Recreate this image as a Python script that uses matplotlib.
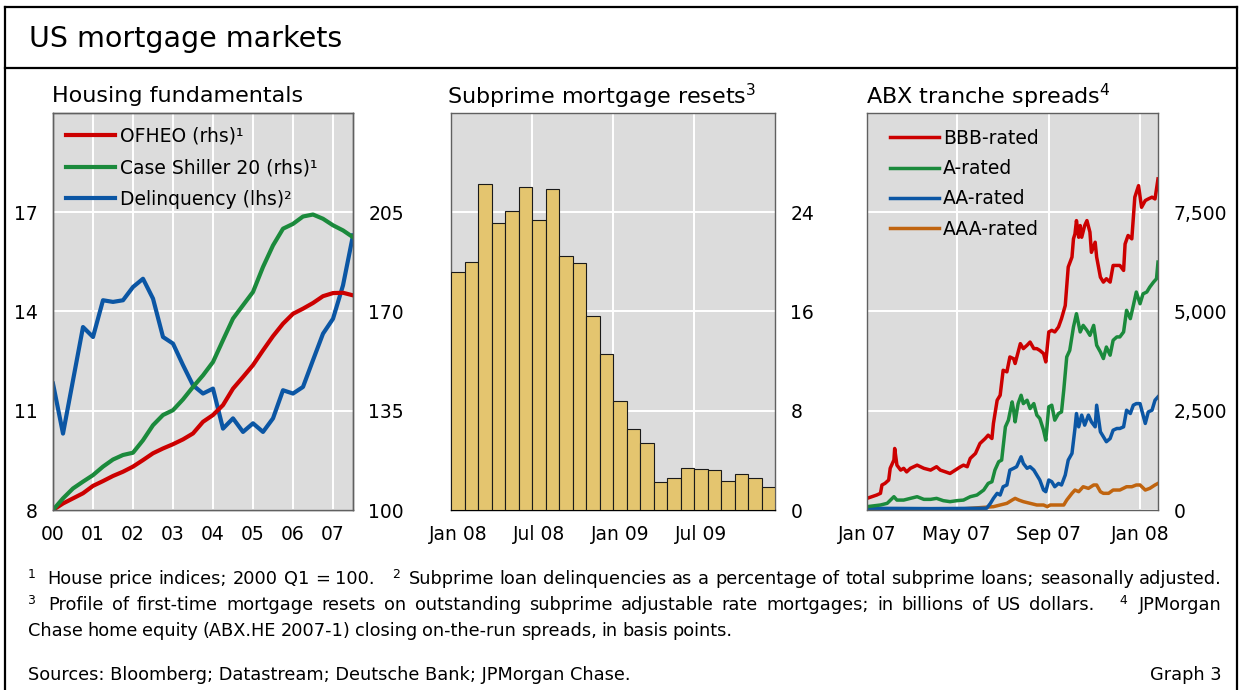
import matplotlib
matplotlib.use('Agg')
import matplotlib.pyplot as plt
from matplotlib.lines import Line2D
from matplotlib.ticker import FuncFormatter
import numpy as np

plt.rcParams['font.family'] = ['DejaVu Sans']

# ---------------- data ----------------
# Housing fundamentals (quarterly, 2000 Q1 .. 2007 Q3)
year_labels = ['00', '01', '02', '03', '04', '05', '06', '07']
ofheo = [100, 102.3, 104.1, 105.9, 108.5, 110.2, 112.0, 113.5, 115.3, 117.6, 120.0,
         121.7, 123.2, 124.9, 127.0, 131.1, 133.5, 137.0, 142.8, 146.9, 151.1, 156.3,
         161.3, 165.7, 169.2, 171.0, 173.0, 175.4, 176.5, 176.6, 175.7]
case_shiller = [100, 104.1, 107.6, 110.0, 112.3, 115.3, 117.8, 119.4, 120.2, 124.6, 129.9,
                133.5, 135.2, 139.0, 143.4, 147.5, 152.2, 159.9, 167.5, 172.2, 176.9, 185.7,
                193.3, 199.2, 200.9, 203.5, 204.2, 202.7, 200.4, 198.6, 196.2]
delinquency = [11.82, 10.31, 11.92, 13.53, 13.23, 14.34, 14.29, 14.34, 14.74, 14.99, 14.39,
               13.23, 13.03, 12.38, 11.77, 11.52, 11.67, 10.46, 10.77, 10.36, 10.62, 10.36,
               10.77, 11.62, 11.52, 11.72, 12.53, 13.33, 13.78, 14.79, 16.30]

# Subprime mortgage resets (monthly, Jan 08 .. Dec 09), USD bn
reset_month_labels = ['Jan 08', 'Jul 08', 'Jan 09', 'Jul 09']
resets = [19.15, 20.0, 26.3, 23.1, 24.1, 26.0, 23.4, 25.9, 20.5, 19.9, 15.6, 12.6,
          8.8, 6.5, 5.4, 2.25, 2.55, 3.4, 3.3, 3.25, 2.35, 2.9, 2.6, 1.85]

# ABX tranche spreads, days since 1 Jan 2007, basis points
abx_tick_labels = ['Jan 07', 'May 07', 'Sep 07', 'Jan 08']
abx_tick_days = [0, 120, 243, 365]
bbb_days = [0, 13, 18, 20, 24, 29, 31, 36, 37, 40, 45, 49, 53, 58, 67, 76, 85, 93, 98, 105,
            111, 118, 125, 129, 134, 138, 145, 151, 158, 162, 167, 169, 174, 178, 182, 187,
            191, 196, 198, 205, 209, 214, 218, 223, 227, 231, 236, 239, 243, 247, 251, 256,
            260, 265, 269, 274, 276, 278, 280, 283, 285, 287, 291, 294, 298, 300, 305, 307,
            312, 316, 320, 325, 329, 334, 338, 343, 345, 349, 354, 358, 363, 367, 372, 376,
            381, 385, 389]
bbb = [293, 377, 420, 630, 670, 755, 1050, 1260, 1550, 1130, 1005, 1050, 960, 1050, 1130,
       1050, 1005, 1090, 1005, 960, 920, 1005, 1090, 1130, 1090, 1300, 1425, 1676, 1800, 1885,
       1800, 2180, 2765, 2890, 3520, 3480, 3855, 3810, 3690, 4190, 4065, 4150, 4230, 4065,
       4065, 4020, 3940, 3730, 4485, 4525, 4485, 4610, 4820, 5150, 6120, 6370, 6830, 6955,
       7290, 6870, 7165, 6870, 7165, 7290, 7000, 6490, 6745, 6370, 5865, 5740, 5825, 5740,
       6160, 6160, 6160, 6035, 6700, 6915, 6830, 7880, 8170, 7625, 7795, 7835, 7880, 7835, 8340]
a_days = [0, 18, 27, 36, 40, 49, 58, 67, 76, 85, 93, 102, 111, 120, 129, 138, 147, 156, 162,
          167, 171, 176, 180, 185, 189, 194, 196, 198, 202, 206, 209, 214, 218, 223, 227, 231,
          236, 239, 243, 247, 251, 256, 260, 263, 267, 271, 276, 280, 285, 289, 294, 298, 303,
          307, 312, 316, 320, 325, 329, 334, 338, 343, 347, 352, 356, 360, 365, 369, 374, 378,
          383, 387, 389]
a_rated = [84, 126, 168, 335, 250, 250, 293, 335, 268, 268, 293, 235, 210, 235, 250, 335, 377,
           503, 670, 712, 1005, 1215, 1257, 2095, 2263, 2723, 2514, 2220, 2680, 2890, 2680,
           2765, 2555, 2680, 2390, 2305, 2010, 1760, 2600, 2640, 2263, 2430, 2470, 3015, 3855,
           4020, 4610, 4945, 4485, 4650, 4525, 4400, 4650, 4150, 3980, 3815, 4105, 3900, 4275,
           4360, 4360, 4485, 5030, 4820, 5150, 5490, 5195, 5445, 5490, 5615, 5740, 5825, 6245]
aa_days = [0, 40, 85, 129, 160, 165, 169, 174, 178, 182, 187, 191, 196, 200, 206, 209, 214,
           218, 223, 227, 231, 236, 239, 243, 247, 251, 256, 260, 265, 269, 274, 278, 280, 283,
           287, 291, 296, 300, 305, 307, 312, 316, 320, 325, 329, 334, 338, 343, 347, 352, 356,
           360, 365, 369, 372, 376, 381, 385, 389]
aa_rated = [42, 40, 35, 40, 45, 168, 293, 420, 377, 586, 630, 1005, 1050, 1090, 1340, 1173,
            1050, 1090, 1005, 880, 755, 503, 461, 755, 712, 586, 670, 630, 880, 1257, 1425,
            2053, 2430, 2095, 2390, 2137, 2390, 2220, 2095, 2640, 1970, 1845, 1720, 1800, 2010,
            2053, 2053, 2095, 2514, 2430, 2640, 2680, 2680, 2390, 2180, 2470, 2514, 2765, 2850]
aaa_days = [0, 40, 85, 129, 169, 178, 187, 194, 198, 203, 209, 218, 227, 236, 241, 245, 254,
            263, 267, 274, 278, 283, 289, 296, 303, 307, 312, 316, 323, 329, 338, 347, 354,
            360, 365, 372, 378, 385, 389]
aaa_rated = [25, 30, 25, 30, 84, 126, 168, 250, 293, 250, 210, 168, 126, 126, 84, 126, 126,
             126, 250, 420, 503, 461, 586, 545, 630, 630, 461, 420, 420, 503, 503, 586, 586,
             630, 630, 503, 545, 630, 670]

# ---------------- style ----------------
W, H = 1239, 690
RED = '#cc0000'
GREEN = '#1b8a3c'
BLUE = '#0b56a4'
ORANGE = '#c0640f'
BAR = '#e4c56f'
BG = '#dcdcdc'
TICK_FS = 13.5
SUB_FS = 16

fig = plt.figure(figsize=(W / 100, H / 100), dpi=100)


def fx(x):
    return x / W


def fy(y):
    return 1 - y / H


def add_axes(x0, y0, x1, y1):
    return fig.add_axes([fx(x0), fy(y1), (x1 - x0) / W, (y1 - y0) / H])


def style(ax):
    ax.set_facecolor(BG)
    for s in ax.spines.values():
        s.set_color('#606060')
        s.set_linewidth(1.0)
    ax.tick_params(length=0, labelsize=TICK_FS)
    ax.tick_params(axis='x', pad=11)
    ax.tick_params(axis='y', pad=11)
    ax.grid(True, color='white', linewidth=1.4)
    ax.set_axisbelow(True)


def ftext(x, y, s, **kw):
    return fig.text(fx(x), fy(y), s, **kw)


# frame lines
for (x0, y0, x1, y1) in [(5, 7, 1237, 7), (5, 68, 1237, 68), (5, 7, 5, 690), (1237, 7, 1237, 690)]:
    fig.add_artist(Line2D([fx(x0), fx(x1)], [fy(y0), fy(y1)], color='black', lw=1.6,
                          transform=fig.transFigure))

ftext(29, 39, 'US mortgage markets', fontsize=20.5, va='center', ha='left')

# ---------------- panel 1 ----------------
ax1 = add_axes(53, 113, 353, 510)
style(ax1)
xq = np.arange(len(delinquency)) / 4.0
l_del, = ax1.plot(xq, delinquency, color=BLUE, lw=3.0, solid_joinstyle='round')
ax1.set_xlim(0, 7.5)
ax1.set_ylim(8, 20)
ax1.set_yticks([8, 11, 14, 17])
ax1.set_xticks(range(len(year_labels)))
ax1.set_xticklabels(year_labels)
ax2 = ax1.twinx()
ax2.set_ylim(100, 240)
ax2.set_yticks([100, 135, 170, 205])
ax2.tick_params(length=0, labelsize=TICK_FS, pad=11)
for s in ax2.spines.values():
    s.set_color('#606060')
    s.set_linewidth(1.0)
l_of, = ax2.plot(xq, ofheo, color=RED, lw=3.0, solid_joinstyle='round')
l_cs, = ax2.plot(xq, case_shiller, color=GREEN, lw=3.0, solid_joinstyle='round')
ax2.legend([l_of, l_cs, l_del], ['OFHEO (rhs)¹', 'Case Shiller 20 (rhs)¹', 'Delinquency (lhs)²'],
           loc='upper left', bbox_to_anchor=(0.045, 0.965), frameon=False, fontsize=TICK_FS,
           handlelength=2.6, handletextpad=0.25, labelspacing=0.66, borderaxespad=0, borderpad=0)
ftext(52, 96, 'Housing fundamentals', fontsize=SUB_FS, va='center', ha='left')

# ---------------- panel 2 ----------------
axb = add_axes(451, 113, 775, 510)
style(axb)
idx = np.arange(len(resets))
axb.bar(idx, resets, width=1.0, color=BAR, edgecolor='#1a1a1a', linewidth=0.8, zorder=3)
axb.set_xlim(-0.5, len(resets) - 0.5)
axb.set_ylim(0, 32)
axb.yaxis.tick_right()
axb.set_yticks([0, 8, 16, 24])
axb.set_xticks([0, 6, 12, 18])
axb.set_xticklabels(reset_month_labels)
axb.set_xticks([-0.5, 5.5, 11.5, 17.5], minor=True)
axb.grid(False)
axb.grid(True, axis='y', which='major', color='white', linewidth=1.4)
axb.grid(True, axis='x', which='minor', color='white', linewidth=1.4)
axb.tick_params(which='minor', length=0)
axb.spines['bottom'].set_color('black')
ftext(447, 96, 'Subprime mortgage resets$^{3}$', fontsize=SUB_FS, va='center', ha='left')

# ---------------- panel 3 ----------------
axa = add_axes(867, 113, 1158, 510)
style(axa)
axa.plot(aaa_days, aaa_rated, color=ORANGE, lw=2.5, label='AAA-rated')
axa.plot(aa_days, aa_rated, color=BLUE, lw=2.5, label='AA-rated')
axa.plot(a_days, a_rated, color=GREEN, lw=2.5, label='A-rated')
axa.plot(bbb_days, bbb, color=RED, lw=2.5, label='BBB-rated')
axa.set_xlim(0, 389)
axa.set_ylim(0, 10000)
axa.yaxis.tick_right()
axa.set_yticks([0, 2500, 5000, 7500])
axa.yaxis.set_major_formatter(FuncFormatter(lambda v, p: f'{int(v):,}'))
axa.set_xticks(abx_tick_days)
axa.set_xticklabels(abx_tick_labels)
h, lab = axa.get_legend_handles_labels()
axa.legend(h[::-1], lab[::-1], loc='upper left', bbox_to_anchor=(0.08, 0.96), frameon=False,
           fontsize=TICK_FS, handlelength=2.6, handletextpad=0.2, labelspacing=0.6,
           borderaxespad=0, borderpad=0)
ftext(866, 96, 'ABX tranche spreads$^{4}$', fontsize=SUB_FS, va='center', ha='left')

# ---------------- footnotes ----------------
FN = 12.8
renderer = fig.canvas.get_renderer()


def draw_words(words, x0, x1, y, justify):
    arts, widths = [], []
    for text, sup, gap in words:
        size = FN * 0.7 if sup else FN
        yy = y - 6 if sup else y
        t = ftext(0, yy, text, fontsize=size, va='baseline', ha='left')
        arts.append(t)
        widths.append(t.get_window_extent(renderer).width)
    units = sum(w[2] for w in words[1:])
    if justify:
        g = (x1 - x0 - sum(widths)) / units
    else:
        g = 4.6
    x = x0
    for i, (t, w) in enumerate(zip(arts, widths)):
        if i > 0:
            x += words[i][2] * g
        pos = t.get_position()
        t.set_position((fx(x), pos[1]))
        x += w


def words_of(parts):
    out = []
    for text, sup, lead in parts:
        for j, w in enumerate(text.split()):
            out.append((w, sup, lead if j == 0 else 1))
    return out


line1 = words_of([('1', True, 1), ('House price indices; 2000 Q1 = 100.', False, 2),
                  ('2', True, 3), ('Subprime loan delinquencies as a percentage of total subprime loans; seasonally adjusted.', False, 1.5)])
line2 = words_of([('3', True, 1), ('Profile of first-time mortgage resets on outstanding subprime adjustable rate mortgages; in billions of US dollars.', False, 1.5),
                  ('4', True, 3), ('JPMorgan', False, 1.5)])
line3 = words_of([('Chase home equity (ABX.HE 2007-1) closing on-the-run spreads, in basis points.', False, 1)])

draw_words(line1, 28, 1222, 584, True)
draw_words(line2, 28, 1222, 610, True)
draw_words(line3, 28, 1222, 636, False)
ftext(28, 680, 'Sources: Bloomberg; Datastream; Deutsche Bank; JPMorgan Chase.', fontsize=FN,
      va='baseline', ha='left')
ftext(1222, 680, 'Graph 3', fontsize=FN, va='baseline', ha='right')

fig.savefig('out.png', dpi=100)
